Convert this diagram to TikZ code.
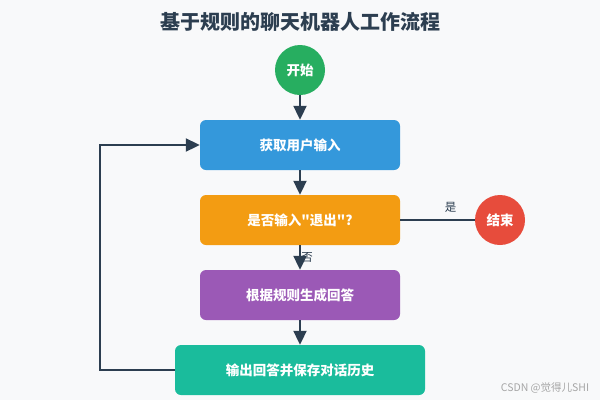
\documentclass[tikz,border=0pt]{standalone}
\usepackage{fontspec}
\setmainfont{Noto Sans CJK SC}[Ligatures=TeXOff]
\usetikzlibrary{arrows.meta}
\definecolor{bg}{HTML}{F8F9FA}
\definecolor{ink}{HTML}{2C3E50}
\definecolor{cgreen}{HTML}{27AE60}
\definecolor{cblue}{HTML}{3498DB}
\definecolor{corange}{HTML}{F39C12}
\definecolor{cpurple}{HTML}{9B59B6}
\definecolor{cteal}{HTML}{1ABC9C}
\definecolor{cred}{HTML}{E74C3C}
\tikzset{
  stepbox/.style={rectangle, rounded corners=6pt, minimum width=200pt, minimum height=50pt,
                  text=white, font=\fontsize{13.5}{16}\selectfont\bfseries, inner sep=0pt},
  endpoint/.style={circle, minimum size=50pt, inner sep=0pt, text=white,
                   font=\fontsize{13.5}{16}\selectfont\bfseries},
  flow/.style={draw=ink, line width=2pt, -{Triangle[length=14pt,width=13pt]}},
  tag/.style={font=\fontsize{11.5}{13}\selectfont, text=ink}
}
\begin{document}
\begin{tikzpicture}[x=1pt, y=-1pt]
  \useasboundingbox[fill=bg] (0,0) rectangle (600,400);
  \node[font=\fontsize{20}{22}\selectfont\bfseries, text=ink] (title) at (300,22) {基于规则的聊天机器人工作流程};
  % flow
  \node[endpoint, fill=cgreen] (start) at (300,70) {开始};
  \node[stepbox, fill=cblue] (input) at (300,145) {获取用户输入};
  \node[stepbox, fill=corange] (check) at (300,220) {是否输入"退出"?};
  \node[endpoint, fill=cred] (stop) at (500,220) {结束};
  \node[stepbox, fill=cpurple] (reply) at (300,295) {根据规则生成回答};
  \node[stepbox, fill=cteal, minimum width=250pt] (output) at (300,370) {输出回答并保存对话历史};
  \coordinate (lb) at (100,370);
  \coordinate (lt) at (100,145);
  \draw[flow] (start) -- (input);
  \draw[flow] (input) -- (check);
  \draw[flow] (check) -- node[tag, right, xshift=-3pt, yshift=0pt] {否} (reply);
  \draw[flow] (reply) -- (output);
  \draw[draw=ink, line width=2pt] (check) -- node[tag, above, xshift=13pt, yshift=3pt] {是} (stop);
  \draw[flow] (output.west) -- (lb) -- (lt) -- (input.west);
  \node[font=\fontsize{10.5}{12}\selectfont, text=black!35] (mark) at (545,388) {CSDN @觉得儿SHI};
\end{tikzpicture}
\end{document}
